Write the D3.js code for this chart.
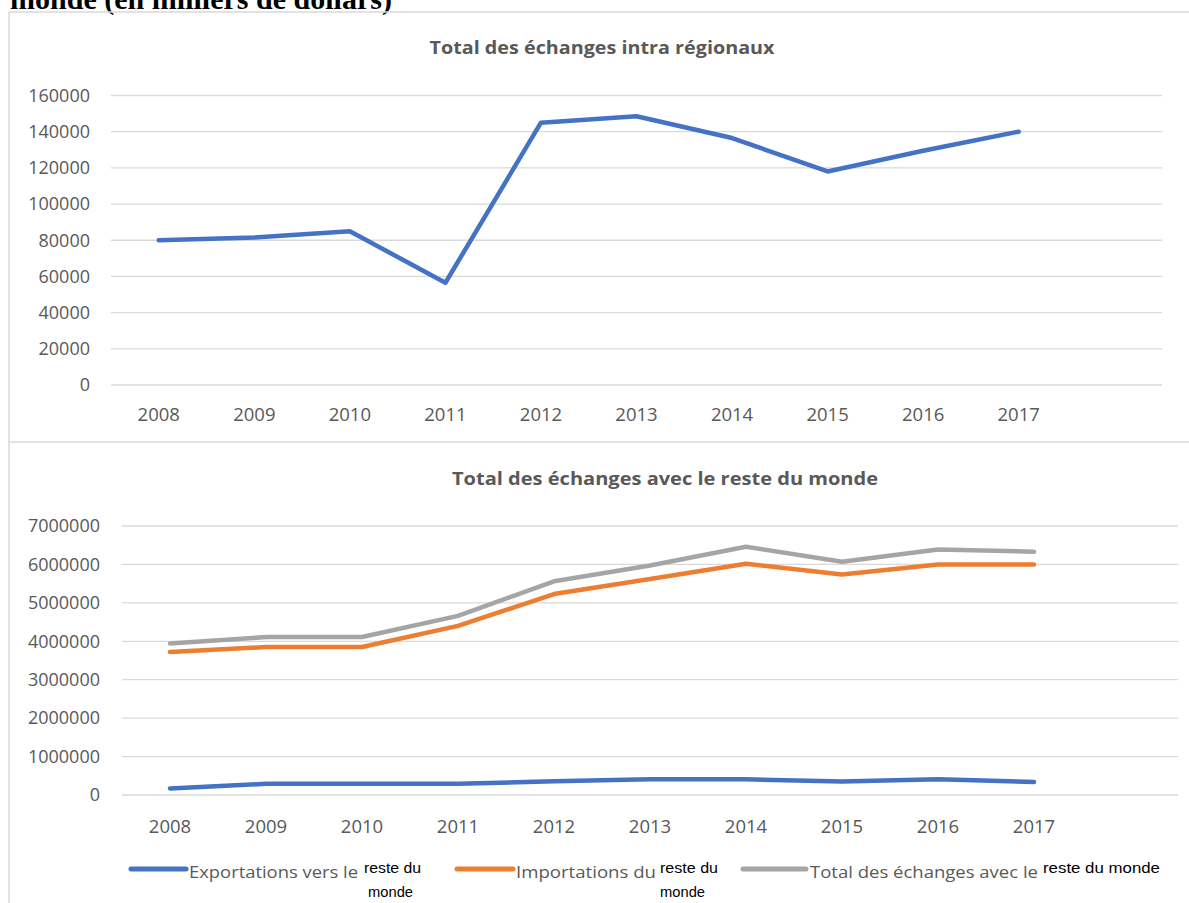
<!DOCTYPE html>
<html>
<head>
<meta charset="utf-8">
<script src="https://cdn.jsdelivr.net/npm/d3@7"></script>
<style>
  body { margin: 0; background: #fff; }
  svg { display: block; }
</style>
</head>
<body>
<div class="canvas"></div>
<script>
// data
const years = ["2008", "2009", "2010", "2011", "2012", "2013", "2014", "2015", "2016", "2017"];
// an empty slot after 2017, as in the original spreadsheet
const slots = [...years, ""];

const intraTotal = [80000, 81500, 85000, 56500, 145000, 148500, 136500, 118000, 129500, 140000];

const exportsRdm = [170000, 290000, 290000, 290000, 360000, 410000, 410000, 350000, 410000, 340000];
const importsRdm = [3720000, 3850000, 3850000, 4400000, 5230000, 5620000, 6020000, 5740000, 6000000, 6000000];
const totalRdm = [3940000, 4110000, 4110000, 4660000, 5560000, 5970000, 6460000, 6070000, 6390000, 6330000];

const topTicks = [0, 20000, 40000, 60000, 80000, 100000, 120000, 140000, 160000];
const bottomTicks = [0, 1000000, 2000000, 3000000, 4000000, 5000000, 6000000, 7000000];

const topTitle = "Total des échanges intra régionaux";
const bottomTitle = "Total des échanges avec le reste du monde";
const caption = "monde (en milliers de dollars)";

const legendItems = [
  { main: "Exportations vers le", small: ["reste du", "monde"], color: "#4472C4" },
  { main: "Importations du", small: ["reste du", "monde"], color: "#ED7D31" },
  { main: "Total des échanges avec le", small: ["reste du monde"], color: "#A5A5A5" },
];

const width = 1189;
const height = 903;
const textColor = "#595959";
const gridColor = "#d9d9d9";
const font = "'Open Sans', sans-serif";

const svg = d3
  .select(".canvas")
  .append("svg")
  .attr("width", width)
  .attr("height", height);

// caption cut off at the top of the page
svg
  .append("text")
  .attr("x", 10)
  .attr("y", 9)
  .attr("textLength", 382)
  .attr("lengthAdjust", "spacingAndGlyphs")
  .attr("font-family", "'Liberation Serif', serif")
  .attr("font-weight", "bold")
  .attr("font-size", 29)
  .attr("fill", "#000")
  .text(caption);

// frame lines
const frame = svg.append("g").attr("stroke", gridColor).attr("stroke-width", 1.5);
frame.append("line").attr("x1", 9).attr("x2", 9).attr("y1", 12).attr("y2", height);
frame.append("line").attr("x1", 9).attr("x2", width).attr("y1", 12).attr("y2", 12);
frame.append("line").attr("x1", 9).attr("x2", width).attr("y1", 442).attr("y2", 442);

const drawPanel = (cfg) => {
  const x = d3.scaleBand().domain(slots).range([cfg.left, cfg.right]);
  const y = d3.scaleLinear().domain([0, cfg.max]).range([cfg.bottom, cfg.top]);

  const g = svg.append("g");

  // gridlines
  g.append("g")
    .selectAll("line")
    .data(cfg.ticks)
    .join("line")
    .attr("x1", cfg.left)
    .attr("x2", cfg.right)
    .attr("y1", (d) => y(d))
    .attr("y2", (d) => y(d))
    .attr("stroke", gridColor)
    .attr("stroke-width", 1.3);

  // y axis labels
  const yAxis = d3.axisLeft(y).tickValues(cfg.ticks).tickSize(0).tickPadding(0).tickFormat(d3.format("d"));
  const yAxisGroup = g
    .append("g")
    .attr("transform", `translate(${cfg.labelRight},0)`)
    .call(yAxis);
  yAxisGroup.select(".domain").remove();
  yAxisGroup
    .selectAll("text")
    .attr("font-family", font)
    .attr("font-size", 18)
    .attr("fill", textColor);

  // x axis labels
  const xAxis = d3.axisBottom(x).tickSize(0).tickPadding(0);
  const xAxisGroup = g
    .append("g")
    .attr("transform", `translate(0,${cfg.xLabelY})`)
    .call(xAxis);
  xAxisGroup.select(".domain").remove();
  xAxisGroup
    .selectAll("text")
    .attr("font-family", font)
    .attr("font-size", 18.5)
    .attr("fill", textColor);

  // title
  g.append("text")
    .attr("x", cfg.titleX)
    .attr("y", cfg.titleY)
    .attr("text-anchor", "middle")
    .attr("textLength", cfg.titleLen)
    .attr("lengthAdjust", "spacingAndGlyphs")
    .attr("font-family", font)
    .attr("font-weight", "bold")
    .attr("font-size", 18.5)
    .attr("fill", textColor)
    .text(cfg.title);

  // lines
  const line = d3
    .line()
    .x((d, i) => x(years[i]) + x.bandwidth() / 2)
    .y((d) => y(d));

  cfg.series.forEach((s) => {
    g.append("path")
      .datum(s.values)
      .attr("fill", "none")
      .attr("stroke", s.color)
      .attr("stroke-width", 4.5)
      .attr("stroke-linecap", "round")
      .attr("stroke-linejoin", "round")
      .attr("d", line);
  });
};

drawPanel({
  left: 111,
  right: 1162,
  top: 95.5,
  bottom: 385,
  max: 160000,
  ticks: topTicks,
  labelRight: 90,
  xLabelY: 408,
  title: topTitle,
  titleX: 602,
  titleY: 54,
  titleLen: 345,
  series: [{ values: intraTotal, color: "#4472C4" }],
});

drawPanel({
  left: 122,
  right: 1178,
  top: 526,
  bottom: 795,
  max: 7000000,
  ticks: bottomTicks,
  labelRight: 100,
  xLabelY: 820,
  title: bottomTitle,
  titleX: 665,
  titleY: 485,
  titleLen: 426,
  series: [
    { values: exportsRdm, color: "#4472C4" },
    { values: importsRdm, color: "#ED7D31" },
    { values: totalRdm, color: "#A5A5A5" },
  ],
});

// legend
const legendPos = [
  { sw: [131, 186], main: [189, 169], small: [364, 57], small2: 368 },
  { sw: [457, 513], main: [516, 140], small: [660, 58], small2: 660 },
  { sw: [743, 806], main: [810, 228], small: [1043, 117], small2: 0 },
];

const legend = svg.append("g");
legendItems.forEach((item, i) => {
  const p = legendPos[i];
  legend
    .append("line")
    .attr("x1", p.sw[0])
    .attr("x2", p.sw[1])
    .attr("y1", 869)
    .attr("y2", 869)
    .attr("stroke", item.color)
    .attr("stroke-width", 5)
    .attr("stroke-linecap", "round");
  legend
    .append("text")
    .attr("x", p.main[0])
    .attr("y", 878)
    .attr("textLength", p.main[1])
    .attr("lengthAdjust", "spacingAndGlyphs")
    .attr("font-family", font)
    .attr("font-size", 17)
    .attr("fill", textColor)
    .text(item.main);
  legend
    .append("text")
    .attr("x", p.small[0])
    .attr("y", 873)
    .attr("textLength", p.small[1])
    .attr("lengthAdjust", "spacingAndGlyphs")
    .attr("font-family", "'Liberation Sans', sans-serif")
    .attr("font-size", 14)
    .attr("fill", "#000")
    .text(item.small[0]);
  if (item.small[1]) {
    legend
      .append("text")
      .attr("x", p.small2)
      .attr("y", 897)
      .attr("font-family", "'Liberation Sans', sans-serif")
      .attr("font-size", 14)
      .attr("textLength", 45)
      .attr("lengthAdjust", "spacingAndGlyphs")
      .attr("fill", "#000")
      .text(item.small[1]);
  }
});
</script>
</body>
</html>
